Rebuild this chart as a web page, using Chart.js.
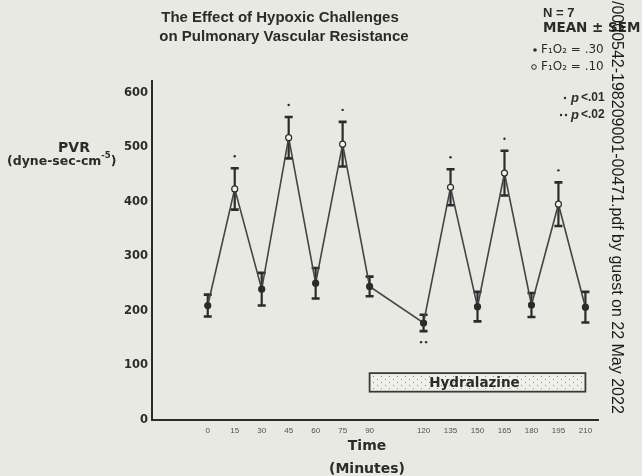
<!DOCTYPE html>
<html><head><meta charset="utf-8">
<script src="https://cdn.jsdelivr.net/npm/chart.js@4/dist/chart.umd.min.js"></script>
<style>html,body{margin:0;padding:0;background:#e9e9e4;}#wrap{width:642px;height:476px;position:relative;}</style>
</head><body><div id="wrap"><canvas id="c" width="642" height="476"></canvas></div>
<script>
// ---- data ----
const times    = [0, 15, 30, 45, 60, 75, 90, 120, 135, 150, 165, 180, 195, 210];
const pvrMean  = [210, 424, 240, 518, 251, 506, 245, 178, 427, 208, 453, 211, 396, 207];
const pvrSem   = [20, 38, 30, 38, 28, 41, 18, 15, 33, 27, 41, 22, 40, 28];
const fio2     = [.30, .10, .30, .10, .30, .10, .30, .30, .10, .30, .10, .30, .10, .30];
const signif   = ['', '·', '', '·', '', '·', '', '··', '·', '', '·', '', '·', ''];
const yTicks   = [0, 100, 200, 300, 400, 500, 600];
const hydralazineTimes = [90, 210];
const hydralazineBand  = [52, 86];

const INK = '#2b2b2b';
const BG = '#e9e9e4';
const FONT = '"Liberation Sans", Arial, sans-serif';
const DJ = '"DejaVu Sans", sans-serif';

function stipple(ctx){
  const c = document.createElement('canvas'); c.width = 8; c.height = 6;
  const g = c.getContext('2d');
  g.fillStyle = '#f0f0eb'; g.fillRect(0,0,8,6);
  g.fillStyle = '#8d8d89';
  g.fillRect(1,1,1,1); g.fillRect(5,4,1,1);
  return ctx.createPattern(c,'repeat');
}

const decor = {
  id: 'decor',
  beforeDraw(chart){
    const ctx = chart.ctx;
    ctx.save(); ctx.fillStyle = BG; ctx.fillRect(0,0,chart.width,chart.height); ctx.restore();
  },
  beforeDatasetsDraw(chart){
    const ctx = chart.ctx, xs = chart.scales.x, ys = chart.scales.y;
    ctx.save();
    ctx.strokeStyle = INK; ctx.lineCap = 'butt';
    times.forEach((t,i)=>{
      const x = xs.getPixelForValue(t);
      const y1 = ys.getPixelForValue(pvrMean[i] + pvrSem[i]);
      const y2 = ys.getPixelForValue(pvrMean[i] - pvrSem[i]);
      ctx.lineWidth = 2.2;
      ctx.beginPath(); ctx.moveTo(x,y1); ctx.lineTo(x,y2); ctx.stroke();
      ctx.lineWidth = 2.6;
      ctx.beginPath(); ctx.moveTo(x-4,y1); ctx.lineTo(x+4,y1);
      ctx.moveTo(x-4,y2); ctx.lineTo(x+4,y2); ctx.stroke();
    });
    ctx.restore();
  },
  afterDraw(chart){
    const ctx = chart.ctx, xs = chart.scales.x, ys = chart.scales.y;
    ctx.save();
    // significance dots
    ctx.fillStyle = INK;
    times.forEach((t,i)=>{
      const s = signif[i]; if(!s) return;
      const x = xs.getPixelForValue(t);
      const n = s.length;
      let y;
      if (fio2[i] < 0.2) y = ys.getPixelForValue(pvrMean[i] + pvrSem[i]) - 12;
      else y = ys.getPixelForValue(pvrMean[i] - pvrSem[i]) + 11;
      for(let k=0;k<n;k++){
        ctx.beginPath(); ctx.arc(x + (k-(n-1)/2)*5, y, 1.2, 0, Math.PI*2); ctx.fill();
      }
    });
    // hydralazine box
    const bx1 = xs.getPixelForValue(hydralazineTimes[0]), bx2 = xs.getPixelForValue(hydralazineTimes[1]);
    const by1 = ys.getPixelForValue(hydralazineBand[1]), by2 = ys.getPixelForValue(hydralazineBand[0]);
    ctx.fillStyle = stipple(ctx);
    ctx.fillRect(bx1,by1,bx2-bx1,by2-by1);
    ctx.strokeStyle = '#3a3a3a'; ctx.lineWidth = 1.8;
    ctx.strokeRect(bx1,by1,bx2-bx1,by2-by1);
    ctx.fillStyle = INK; ctx.font = 'bold 13.5px '+DJ; ctx.textAlign='center'; ctx.textBaseline='middle';
    ctx.fillText('Hydralazine', (bx1+bx2)/2 - 3, (by1+by2)/2 + 1);

    // title
    ctx.font = 'bold 15px '+FONT; ctx.textAlign = 'center'; ctx.textBaseline='middle';
    ctx.fillText('The Effect of Hypoxic Challenges', 280, 18);
    ctx.fillText('on Pulmonary Vascular Resistance', 284, 37);

    // y axis title
    ctx.font = 'bold 14px '+DJ;
    ctx.fillText('PVR', 74, 148);
    ctx.textAlign='left';
    ctx.font = 'bold 12.5px '+DJ;
    const p1 = '(dyne-sec-cm';
    ctx.fillText(p1, 7, 162);
    let w = ctx.measureText(p1).width;
    ctx.font = 'bold 8.5px '+DJ;
    ctx.fillText('-5', 7+w, 156);
    let w2 = ctx.measureText('-5').width;
    ctx.font = 'bold 12.5px '+DJ;
    ctx.fillText(')', 7+w+w2, 162);

    // x axis title
    ctx.textAlign='center';
    ctx.font = 'bold 14px '+DJ;
    ctx.fillText('Time', 367, 446);
    ctx.fillText('(Minutes)', 367, 469);

    // legend block
    ctx.textAlign='left';
    ctx.font = 'bold 13px '+FONT;
    ctx.fillText('N = 7', 543, 13);
    ctx.font = 'bold 13.5px '+DJ;
    ctx.fillText('MEAN ± SEM', 543, 28);
    ctx.font = '12px '+DJ;
    ctx.beginPath(); ctx.arc(535, 50, 1.8, 0, Math.PI*2); ctx.fill();
    ctx.fillText('F\u2081O\u2082 = .30', 541, 50);
    ctx.beginPath(); ctx.arc(534, 67, 2.3, 0, Math.PI*2); ctx.lineWidth=1; ctx.strokeStyle=INK; ctx.stroke();
    ctx.fillText('F\u2081O\u2082 = .10', 541, 67);
    ctx.beginPath(); ctx.arc(565, 98, 1.2, 0, Math.PI*2); ctx.fill();
    ctx.beginPath(); ctx.arc(561, 115, 1.2, 0, Math.PI*2); ctx.fill();
    ctx.beginPath(); ctx.arc(566, 115, 1.2, 0, Math.PI*2); ctx.fill();
    ctx.font = 'italic bold 13px '+FONT;
    ctx.fillText('p', 571, 98); ctx.fillText('p', 571, 115);
    ctx.font = 'bold 12px '+FONT;
    ctx.fillText('<.01', 581, 98); ctx.fillText('<.02', 581, 115);

    // watermark
    ctx.save();
    ctx.translate(612, 1); ctx.rotate(Math.PI/2);
    ctx.font = '16px '+FONT; ctx.fillStyle = '#1a1a1a'; ctx.textAlign='left'; ctx.textBaseline='alphabetic';
    ctx.fillText('/0000542-198209001-00471.pdf by guest on 22 May 2022', 0, 0);
    ctx.restore();
    ctx.restore();
  }
};

new Chart(document.getElementById('c'), {
  type: 'line',
  data: {
    datasets: [{
      data: times.map((t,i)=>({x:t, y:pvrMean[i]})),
      borderColor: '#444444', borderWidth: 1.6, tension: 0,
      pointRadius: 3, pointHoverRadius: 3,
      pointBackgroundColor: fio2.map(f => f < 0.2 ? '#f3f3ee' : INK),
      pointBorderColor: INK, pointBorderWidth: 1.2
    }]
  },
  options: {
    responsive: false, animation: false, devicePixelRatio: 1,
    layout: { padding: { top: 81, bottom: 36, left: 0, right: 44 } },
    plugins: { legend: {display:false}, tooltip:{enabled:false}, title:{display:false} },
    scales: {
      x: {
        type: 'linear', min: -31, max: 217,
        grid: { display: false, drawTicks: false },
        border: { display: true, color: INK, width: 2 },
        afterBuildTicks: s => { s.ticks = times.map(v=>({value:v})); },
        afterFit: s => { s.height = 20; },
        ticks: { color: '#505050', font: { size: 8, family: FONT }, padding: 6, maxRotation: 0, autoSkip: false }
      },
      y: {
        min: 0, max: 622,
        grid: { display: false, drawTicks: false },
        border: { display: true, color: INK, width: 2 },
        afterBuildTicks: s => { s.ticks = yTicks.map(v=>({value:v})); },
        afterFit: s => { s.width = 152; },
        ticks: { color: INK, font: { size: 11.5, weight: 'bold', family: DJ }, padding: 4 }
      }
    }
  },
  plugins: [decor]
});
</script>
</body></html>
